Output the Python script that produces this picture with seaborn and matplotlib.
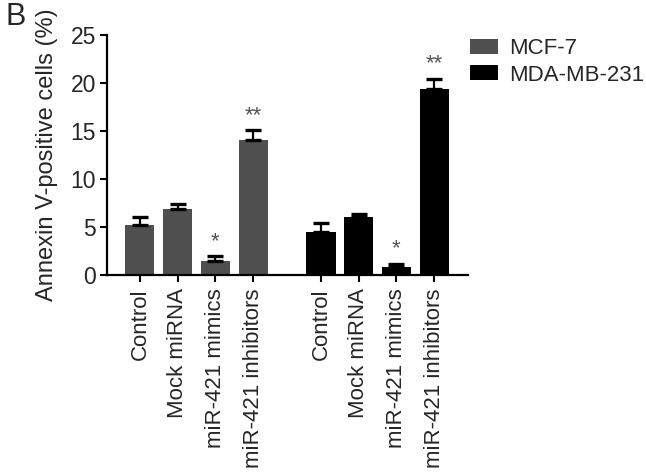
import pandas as pd
import seaborn as sns
import matplotlib.pyplot as plt

# values
groups = ["Control", "Mock miRNA", "miR-421 mimics", "miR-421 inhibitors"]
mcf7_mean = [5.15, 6.85, 1.45, 14.05]
mcf7_err = [0.9, 0.5, 0.45, 1.0]
mda_mean = [4.45, 6.05, 0.75, 19.35]
mda_err = [0.9, 0.3, 0.35, 1.1]
mcf7_stars = ["", "", "*", "**"]
mda_stars = ["", "", "*", "**"]
lines = ["MCF-7", "MDA-MB-231"]
positions = [0, 1, 2, 3, 4.8, 5.8, 6.8, 7.8]

if __name__ == '__main__':
    sns.set_style("ticks")
    plt.rcParams['font.family'] = ['Liberation Sans', 'DejaVu Sans']

    df = pd.DataFrame({"pos": positions,
                       "value": mcf7_mean + mda_mean,
                       "err": mcf7_err + mda_err,
                       "line": [lines[0]] * 4 + [lines[1]] * 4,
                       "label": groups + groups,
                       "star": mcf7_stars + mda_stars})

    fig = plt.figure(figsize = (6.46, 4.75), dpi = 100)
    ax = fig.add_axes([0.1656, 0.4221, 0.559, 0.504])
    sns.barplot(data = df, x = "pos", y = "value", hue = "line",
                palette = ["#4f4f4f", "#000000"], native_scale = True,
                dodge = False, width = 0.77, errorbar = None, ax = ax,
                linewidth = 0)

    # upper error bars only
    ax.errorbar(df["pos"], df["value"], yerr = [[0] * len(df), df["err"]],
                fmt = "none", ecolor = "black", elinewidth = 1.6,
                capsize = 5.8, capthick = 2.4)
    # significance stars
    for p, v, e, s in zip(df["pos"], df["value"], df["err"], df["star"]):
        if s:
            ax.text(p, v + e + 0.45, s, ha = "center", va = "bottom",
                    fontsize = 16, color = "#555555")

    ax.set_xlim(-0.875, 8.7)
    ax.set_ylim(0, 25)
    ax.set_yticks([0, 5, 10, 15, 20, 25])
    ax.set_xticks(positions)
    ax.set_xticklabels(df["label"], rotation = 90, fontsize = 16)
    ax.tick_params(axis = "y", labelsize = 16.5)
    ax.tick_params(width = 1.5, length = 5, pad = 3, color = "black")
    ax.tick_params(axis = "x", pad = 5)
    ax.set_xlabel("")
    ax.set_ylabel("Annexin V-positive cells (%)", fontsize = 17, labelpad = 9)
    for sp in ["left", "bottom"]:
        ax.spines[sp].set_linewidth(1.6)
        ax.spines[sp].set_color("black")
    ax.spines['right'].set_visible(False)
    ax.spines['top'].set_visible(False)

    # legend at the upper right
    handles, labels = ax.get_legend_handles_labels()
    ax.legend_.remove()
    fig.legend(handles, labels, loc = "upper left",
               bbox_to_anchor = (470 / 646, 1 - 38 / 475), frameon = False,
               fontsize = 16, handlelength = 1.25, handleheight = 0.65,
               handletextpad = 0.5, borderpad = 0, borderaxespad = 0,
               labelspacing = 0.25)

    fig.text(6 / 646, 1 - 2 / 475, "B", fontsize = 22, ha = "left", va = "top")

    fig.savefig("out.png", dpi = 100)
